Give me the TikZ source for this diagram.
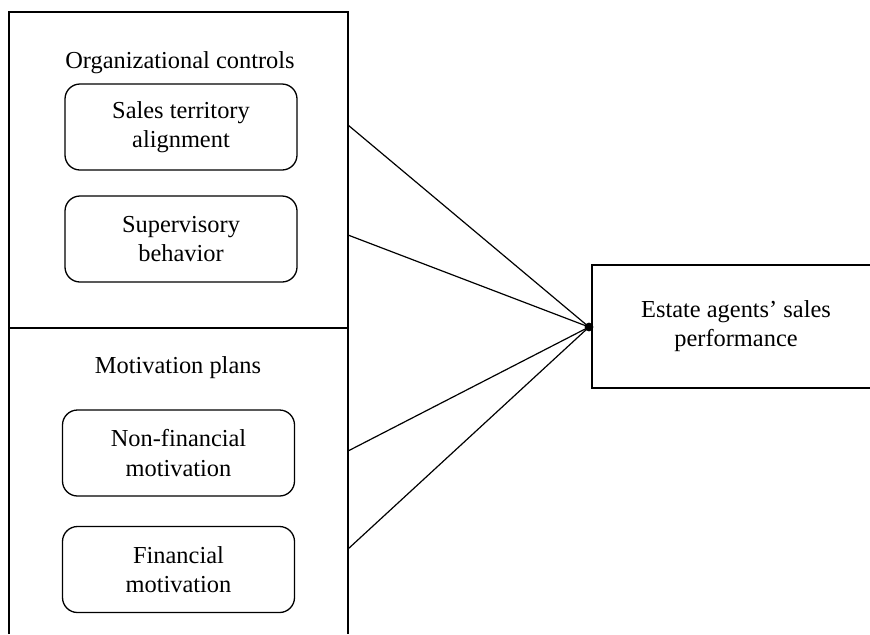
\documentclass[tikz,border=0pt]{standalone}
\usepackage{fontspec}
\setmainfont{Liberation Serif}
\begin{document}
\begin{tikzpicture}[x=0.5pt,y=-0.5pt,
  line width=0.65pt,
  every node/.style={font=\fontsize{12.2}{14.6}\selectfont, align=center, inner sep=0pt},
  sect/.style={draw, rectangle, rounded corners=7.5pt, minimum width=116pt, minimum height=43pt},
  outbox/.style={draw, rectangle, minimum width=144pt, minimum height=61.5pt},
  link/.style={line width=0.6pt}]
\useasboundingbox (0,0) rectangle (870,634);
% outer frame (continues past the bottom edge)
\draw (9,634) -- (9,12) -- (348,12) -- (348,634);
\draw (9,328) -- (348,328);
\node (t1) at (180,63) {Organizational controls};
\node (t2) at (178,368) {Motivation plans};
\node[sect] (b1) at (181,127) {Sales territory\\alignment};
\node[sect] (b2) at (181,239) {Supervisory\\behavior};
\node[sect] (b3) at (178.5,453) {Non-financial\\motivation};
\node[sect] (b4) at (178.5,569.5) {Financial\\motivation};
\node[outbox] (perf) at (736,326.5) {Estate agents’ sales\\performance};
\coordinate (hub) at (589,327);
\coordinate (s1) at (348,125);
\coordinate (s2) at (348,235);
\coordinate (s3) at (348,451);
\coordinate (s4) at (348,549);
\draw[link] (s1) -- (hub);
\draw[link] (s2) -- (hub);
\draw[link] (s3) -- (hub);
\draw[link] (s4) -- (hub);
\fill (hub) circle (2.2pt);
\end{tikzpicture}
\end{document}
